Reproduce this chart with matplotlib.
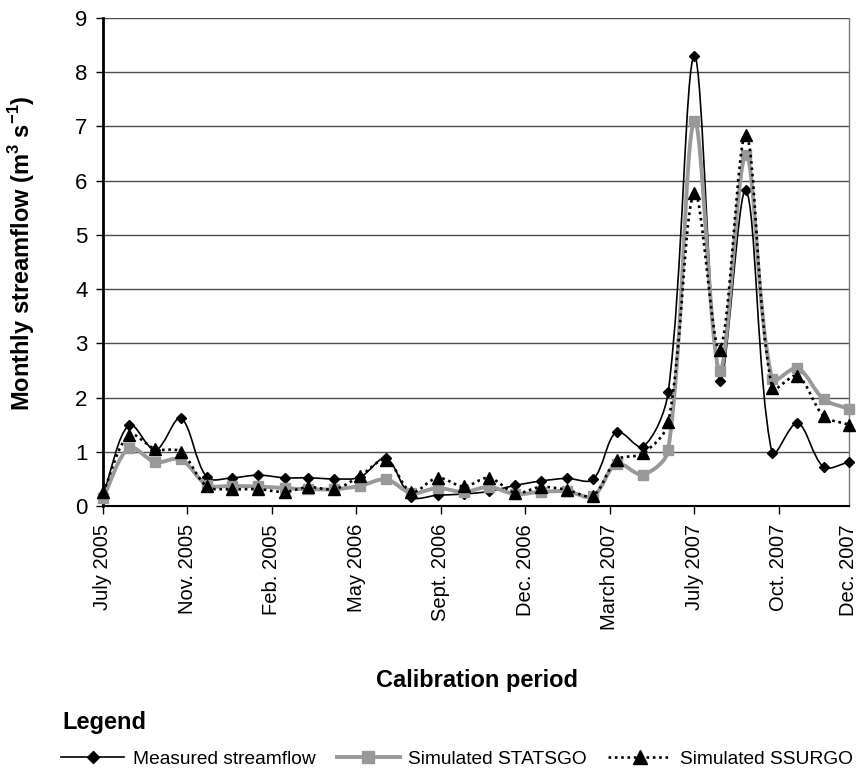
import numpy as np
import pandas as pd
import matplotlib
matplotlib.use("Agg")
import matplotlib.pyplot as plt
import matplotlib.dates as mdates
from matplotlib.path import Path
from matplotlib.patches import PathPatch
from matplotlib.lines import Line2D

plt.rcParams['font.family'] = ['Liberation Sans', 'DejaVu Sans']
plt.rcParams['mathtext.fontset'] = 'custom'
plt.rcParams['mathtext.rm'] = 'Liberation Sans'
plt.rcParams['mathtext.bf'] = 'Liberation Sans:bold'

# ---------------- data ----------------
months = pd.date_range('2005-07-01', '2007-12-01', freq='MS')

measured = [0.20, 1.50, 1.03, 1.62, 0.53, 0.52, 0.57, 0.52, 0.52, 0.50,
            0.53, 0.88, 0.17, 0.20, 0.22, 0.27, 0.38, 0.46, 0.51, 0.49,
            1.37, 1.09, 2.10, 8.30, 2.31, 5.83, 0.97, 1.53, 0.72, 0.81]
statsgo = [0.15, 1.07, 0.81, 0.86, 0.39, 0.37, 0.36, 0.33, 0.31, 0.31,
           0.37, 0.49, 0.24, 0.33, 0.26, 0.35, 0.22, 0.26, 0.27, 0.18,
           0.78, 0.58, 1.03, 7.10, 2.49, 6.48, 2.34, 2.54, 1.97, 1.79]
ssurgo = [0.25, 1.31, 1.05, 1.00, 0.36, 0.31, 0.31, 0.26, 0.35, 0.31,
          0.55, 0.85, 0.26, 0.52, 0.36, 0.52, 0.24, 0.35, 0.30, 0.19,
          0.85, 0.97, 1.54, 5.78, 2.88, 6.85, 2.18, 2.40, 1.66, 1.50]

series_names = ['Measured streamflow', 'Simulated STATSGO', 'Simulated SSURGO']
tick_labels = ['July 2005', 'Nov. 2005', 'Feb. 2005', 'May 2006', 'Sept. 2006',
               'Dec. 2006', 'March 2007', 'July 2007', 'Oct. 2007', 'Dec. 2007']
tick_step_days = 100

# ---------------- figure ----------------
fig = plt.figure(figsize=(8.61, 7.71), dpi=100)
ax = fig.add_axes([103 / 861, 1 - 506 / 771, 746 / 861, 488 / 771])

xn = mdates.date2num(months.to_pydatetime())
ax.set_xlim(xn[0], xn[-1])
ax.set_ylim(0, 9)


def smooth_path(x, y, ax):
    """Smoothed (Bezier) path through the points, tangents scaled by chord length in display space."""
    pts = ax.transData.transform(np.column_stack([x, y]))
    n = len(pts)
    inv = ax.transData.inverted()
    verts = [pts[0]]
    codes = [Path.MOVETO]

    def ctrl(i, direction):
        p = pts[i]
        prev_i = max(i - 1, 0)
        next_i = min(i + 1, n - 1)
        tan = pts[next_i] - pts[prev_i]
        d_seg = np.linalg.norm(pts[i + direction] - p)
        d_prev = np.linalg.norm(p - pts[prev_i])
        d_next = np.linalg.norm(pts[next_i] - p)
        tot = d_prev + d_next
        if tot == 0:
            return p
        return p + direction * tan * (d_seg / tot) / 3.0

    for i in range(n - 1):
        c1 = ctrl(i, +1)
        c2 = ctrl(i + 1, -1)
        verts += [c1, c2, pts[i + 1]]
        codes += [Path.CURVE4] * 3
    verts = inv.transform(np.array(verts))
    return Path(verts, codes)


styles = [
    dict(color='black', lw=1.2, ls='-', marker='D', ms=5.5, mfc='black', mec='black', z=3),
    dict(color='#999999', lw=2.8, ls='-', marker='s', ms=7.5, mfc='#999999', mec='#999999', z=4),
    dict(color='black', lw=1.9, ls=(0, (1.0, 1.4)), marker='^', ms=8.5, mfc='black', mec='black', z=5),
]
handles = []
for vals, st, name in zip([measured, statsgo, ssurgo], styles, series_names):
    p = PathPatch(smooth_path(xn, vals, ax), fill=False, edgecolor=st['color'],
                  lw=st['lw'], linestyle=st['ls'], zorder=st['z'], clip_on=False,
                  capstyle='butt')
    ax.add_patch(p)
    ax.plot(xn, vals, linestyle='none', marker=st['marker'], ms=st['ms'],
            mfc=st['mfc'], mec=st['mec'], zorder=st['z'] + 0.5, clip_on=False)
    handles.append(Line2D([], [], color=st['color'], lw=st['lw'], ls=st['ls'],
                          marker=st['marker'], ms=st['ms'] + 1, mfc=st['mfc'], mec=st['mec']))

ax.set_yticks(range(0, 10))
ticks = [xn[0] + tick_step_days * k for k in range(9)] + [xn[-1]]
ax.set_xticks(ticks)
ax.set_xticklabels(tick_labels, rotation=90, fontsize=14.5)
ax.tick_params(axis='x', direction='out', length=6, width=1, pad=7, color='black')
ax.tick_params(axis='y', direction='out', length=5, width=1, pad=6, labelsize=16)
ax.xaxis.get_major_ticks()[-1].tick1line.set_visible(False)

ax.yaxis.grid(True, color='#4a4a4a', lw=1.0)
ax.set_axisbelow(True)
ax.spines['left'].set_linewidth(2.0)
ax.spines['left'].set_color('black')
ax.spines['bottom'].set_linewidth(1.5)
ax.spines['bottom'].set_color('black')
ax.spines['top'].set_visible(False)
ax.spines['right'].set_color('#777777')
ax.spines['right'].set_linewidth(1.0)

fig.text(22 / 861, 1 - 253 / 771, r'Monthly streamflow (m$^{\mathbf{3}}$ s$^{\mathbf{-1}}$)',
         rotation=90, ha='center', va='center', fontsize=17, fontweight='bold')
fig.text(477 / 861, 1 - 687 / 771, 'Calibration period', ha='center', va='baseline',
         fontsize=17, fontweight='bold')
fig.text(62 / 861, 1 - 729 / 771, 'Legend', ha='left', va='baseline',
         fontsize=17, fontweight='bold')

fig.legend(handles, series_names, loc='center left', bbox_to_anchor=(61 / 861, 1 - 759 / 771),
           ncol=3, frameon=False, fontsize=13.8, handlelength=3.3, handletextpad=0.45,
           columnspacing=1.1, borderpad=0, borderaxespad=0, numpoints=1)

fig.savefig('out.png', dpi=100)
